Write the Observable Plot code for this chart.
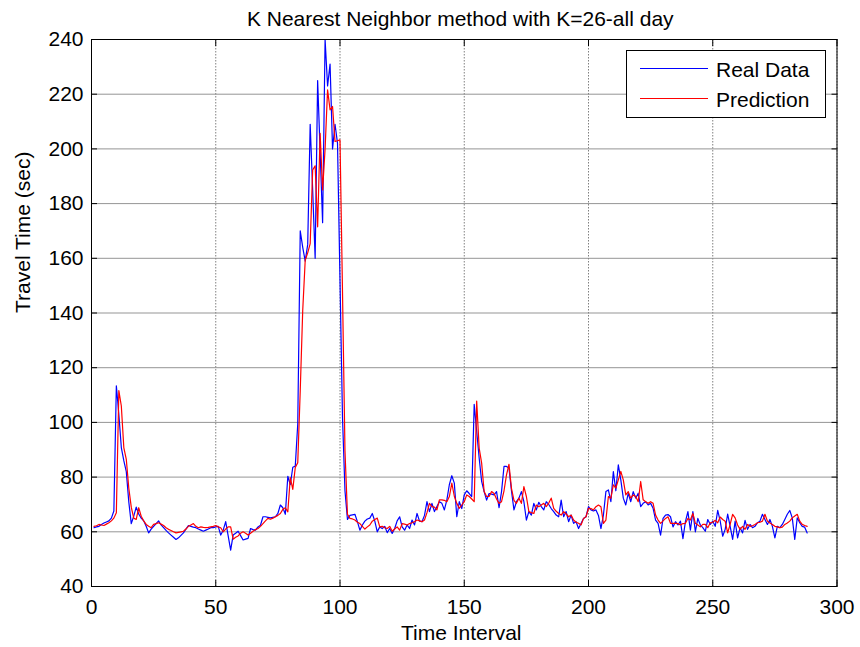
<!DOCTYPE html>
<html>
<head>
<meta charset="utf-8">
<script src="https://cdn.jsdelivr.net/npm/d3@7"></script>
<script src="https://cdn.jsdelivr.net/npm/@observablehq/plot@0.6"></script>
<style>
  html, body { margin: 0; padding: 0; background: #fff; }
  #wrap { position: relative; width: 860px; height: 647px; font-family: "Liberation Sans", Arial, sans-serif; }
  #legend {
    position: absolute; left: 626px; top: 50px; width: 198px; height: 66px;
    border: 1px solid #000; background: #fff;
  }
  #legend svg { position: absolute; left: 0; top: 0; }
</style>
</head>
<body>
<div id="wrap"></div>
<script>
// Travel time per 5-minute interval over one day (288 intervals)
const realData = [
  61.5, 61.8, 62, 62.7, 63.2, 63.6, 64, 65, 67.6, 113.4,
  103, 90.8, 86, 82, 71, 63, 65.7, 69, 66.5, 65,
  64, 62, 59.6, 61, 62, 63, 64, 62.5, 61.5, 60.5,
  59.6, 58.8, 58, 57.2, 57.8, 58.7, 59.6, 61, 62.3, 62,
  61.7, 61.5, 61, 60.6, 60.2, 60.6, 61, 61.5, 61.5, 61.8,
  62, 58.8, 60.6, 63.7, 58.5, 53.3, 58.8, 59.5, 60.2, 58.6,
  57, 57.3, 57.6, 61.2, 60.8, 60.6, 61.8, 62.4, 65.5, 65.5,
  65.3, 65.1, 65.3, 65.5, 66.7, 69.8, 68.8, 66.4, 80.3, 77.2,
  83.6, 84, 99.4, 170, 164, 159, 165, 209, 185, 160,
  225, 199, 173, 240, 223, 231, 200, 209, 202, 152,
  102, 75, 64.5, 66, 66.2, 66.4, 63.7, 60.6, 62.5, 63.9,
  64.7, 65, 66.7, 63.9, 60, 61.8, 61.2, 62, 59.7, 61.2,
  59.4, 61.2, 64, 65.5, 61.8, 60.6, 62.5, 61.2, 64.3, 62.5,
  66.7, 63.9, 63.7, 66, 71, 67.4, 70.4, 67.4, 69.2, 71,
  70.4, 68, 71.7, 77.2, 80.5, 77.8, 65.5, 71, 68.5, 73.5,
  75, 74, 72.9, 106.6, 96.8, 87, 78.4, 74.7, 71.6, 74,
  73.8, 73.5, 74.7, 68.8, 74.7, 83.9, 83.9, 83.3, 75, 68,
  71, 72.3, 74.7, 71, 64.3, 67.4, 66.1, 70.4, 68, 70.8,
  69.2, 68, 71, 70, 68.5, 67.4, 66.1, 65.5, 71.6, 65.5,
  67.4, 63.7, 66.1, 63.1, 63.7, 61.2, 63, 64.9, 65.5, 69.2,
  68, 67.6, 68, 66, 61.2, 66.1, 74.7, 75.3, 71, 82,
  75, 84.5, 79, 72.3, 69.8, 74.1, 71, 74.7, 72.3, 74.1,
  69.2, 70.4, 71, 69.8, 70.4, 68.6, 64.3, 63.1, 58.8, 64.9,
  66.1, 66.3, 65.5, 61.8, 63.7, 62.5, 63.9, 57.5, 63.7, 67.4,
  60.6, 67.4, 60, 64.9, 62.5, 61.5, 60.2, 64.5, 62.7, 63.9,
  62, 67.8, 63.9, 58.4, 60.9, 66.5, 62, 57.2, 63.9, 57.8,
  61.5, 59.6, 64.2, 60.9, 62.7, 61.5, 62, 63.3, 63.9, 66.4,
  64.5, 62.7, 64.5, 62, 57.8, 62, 61.5, 62.7, 64.5, 66.4,
  67.8, 65.1, 57.2, 65.1, 63.3, 62, 61.7, 59.6
];

// K nearest neighbour forecast (K = 26) for the same intervals
const prediction = [
  62, 62.2, 62.7, 62.5, 62.3, 62.8, 63.3, 64, 65, 67,
  111.6, 106, 90.8, 86.5, 76, 69, 65, 64.5, 68.8, 65.7,
  64, 62.7, 62, 61.5, 62.7, 63, 63.3, 62.8, 62.3, 61.5,
  60.9, 60.5, 60, 59.6, 59.8, 60, 60.2, 61, 62, 62.5,
  63, 62, 61.5, 61.8, 61.6, 61.5, 61.6, 61.8, 62, 62.3,
  61.8, 61.5, 60, 61, 61.8, 61.8, 57.3, 58, 58.5, 59.5,
  60, 59.5, 58.8, 59.5, 60.2, 60.8, 61.2, 62, 63, 64,
  64.9, 64.6, 65, 65.5, 66, 66.7, 68.2, 68.8, 67.3, 79.8,
  75.5, 83.5, 85.3, 111.6, 141, 159.3, 162, 165.4, 192.3, 193.8,
  171.5, 205.7, 185, 200, 221.6, 214.3, 215.5, 202.7, 203, 203.3,
  148, 89.6, 66.4, 64.9, 64.7, 64.3, 63.5, 63, 62, 61,
  61.8, 62.5, 63.9, 64.5, 65, 61.8, 62, 61.5, 61.2, 62,
  60.2, 61, 61.8, 60.6, 63, 62.8, 62.5, 63, 63.3, 63.7,
  64.3, 64, 63.7, 64.3, 67, 70.4, 69.2, 69, 68, 71.7,
  71.7, 71.5, 71, 72.9, 77.8, 73, 70.4, 68.6, 69.8, 71,
  73.5, 72.9, 72, 71, 107.8, 90.6, 85.1, 74.7, 72.9, 72.9,
  74.7, 74, 72, 70.4, 71, 75, 80.8, 84.7, 75.9, 71.5,
  70.4, 72.3, 70.4, 76.5, 72.9, 67.4, 67, 66.7, 69.8, 69.2,
  69.8, 70.4, 69.2, 70.5, 72.3, 68.6, 67.5, 66.7, 66.1, 67.4,
  66.5, 65.5, 66.1, 64.3, 63.5, 63.1, 62.5, 64.9, 65.5, 68.6,
  68.5, 68, 69.2, 69.8, 69.2, 63.1, 64.3, 72.9, 72.3, 77.2,
  76, 79, 82.1, 79, 73.5, 74.7, 72.3, 73.5, 72.9, 71,
  78.4, 71.7, 71, 70.4, 71, 70.4, 66.1, 64.3, 63.1, 64,
  64.9, 65.5, 63.1, 63.1, 63.1, 63, 62.5, 63, 63.1, 64.9,
  64.3, 66.7, 63.1, 62.5, 61.8, 62.7, 62.7, 61.5, 63.3, 63.5,
  64.2, 63.3, 65.4, 64.5, 63.9, 59.6, 62.7, 66.4, 65.1, 62.5,
  60.9, 62, 60.9, 62.7, 62, 62.2, 62.7, 63.3, 63.5, 63.9,
  66.4, 63.9, 63.2, 62.7, 62, 61.8, 61.5, 61.7, 62.7, 63.2,
  63.9, 65.1, 65.8, 66.4, 63.9, 62.7, 62.3, 62
];

const xTicks = [0, 50, 100, 150, 200, 250, 300];
const yTicks = [40, 60, 80, 100, 120, 140, 160, 180, 200, 220, 240];
const titleText = "K Nearest Neighbor method with K=26-all day";
const xLabel = "Time Interval";
const yLabel = "Travel Time (sec)";
const seriesNames = ["Real Data", "Prediction"];
const seriesColors = ["#0000ff", "#ff0000"];

const realRows = realData.map((v, i) => ({t: i + 1, v}));
const predRows = prediction.map((v, i) => ({t: i + 1, v}));

const chart = Plot.plot({
  width: 860,
  height: 647,
  marginLeft: 91,
  marginRight: 23.5,
  marginTop: 39,
  marginBottom: 61,
  style: {
    fontFamily: "'Liberation Sans', Arial, sans-serif",
    fontSize: "21px",
    background: "#fff",
    color: "#000",
    overflow: "visible"
  },
  x: {domain: [0, 300]},
  y: {domain: [40, 240]},
  marks: [
    Plot.gridX(xTicks, {stroke: "#555", strokeOpacity: 0.75, strokeDasharray: "1.5,1.5"}),
    Plot.gridY(yTicks, {stroke: "#8a8a8a", strokeOpacity: 0.9}),
    Plot.line(realRows, {x: "t", y: "v", stroke: seriesColors[0], strokeWidth: 1.2}),
    Plot.line(predRows, {x: "t", y: "v", stroke: seriesColors[1], strokeWidth: 1.2}),
    Plot.frame({stroke: "#000"}),
    Plot.axisX(xTicks, {anchor: "bottom", tickSize: -6, tickPadding: 18.5, label: null}),
    Plot.axisX(xTicks, {anchor: "top", tickSize: -6, tickFormat: () => "", label: null}),
    Plot.axisY(yTicks, {anchor: "left", tickSize: -6, tickPadding: 14, label: null}),
    Plot.axisY(yTicks, {anchor: "right", tickSize: -6, tickFormat: () => "", label: null}),
    Plot.text([titleText], {frameAnchor: "top", dx: -4, dy: -14, lineAnchor: "bottom", fontSize: 21}),
    Plot.text([xLabel], {frameAnchor: "bottom", dx: -3, dy: 53, lineAnchor: "bottom", fontSize: 21}),
    Plot.text([yLabel], {frameAnchor: "left", dx: -62, rotate: -90, lineAnchor: "bottom", fontSize: 21})
  ]
});

const wrap = document.getElementById("wrap");
wrap.appendChild(chart);

// Legend box in the upper right corner of the axes
const legend = document.createElement("div");
legend.id = "legend";
const ns = "http://www.w3.org/2000/svg";
const lsvg = document.createElementNS(ns, "svg");
lsvg.setAttribute("width", 198);
lsvg.setAttribute("height", 66);
seriesNames.forEach((name, i) => {
  const yMid = 17.5 + i * 30;
  const ln = document.createElementNS(ns, "line");
  ln.setAttribute("x1", 13); ln.setAttribute("x2", 81);
  ln.setAttribute("y1", yMid); ln.setAttribute("y2", yMid);
  ln.setAttribute("stroke", seriesColors[i]);
  ln.setAttribute("stroke-width", 1.2);
  lsvg.appendChild(ln);
  const tx = document.createElementNS(ns, "text");
  tx.setAttribute("x", 89);
  tx.setAttribute("y", yMid + 8.5);
  tx.setAttribute("font-size", 21);
  tx.setAttribute("font-family", "'Liberation Sans', Arial, sans-serif");
  tx.textContent = name;
  lsvg.appendChild(tx);
});
legend.appendChild(lsvg);
wrap.appendChild(legend);
</script>
</body>
</html>
